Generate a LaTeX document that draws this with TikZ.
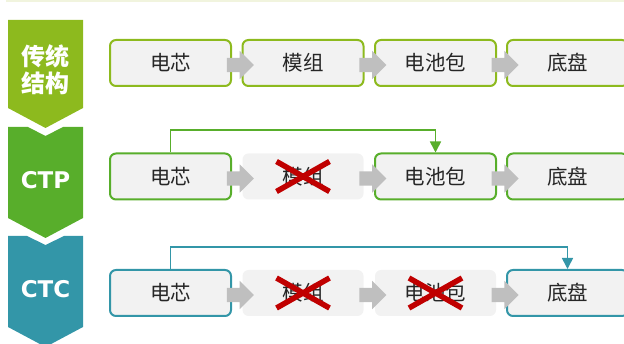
\documentclass[tikz,border=0pt]{standalone}
\usepackage{fontspec}
\setmainfont{Noto Sans CJK SC}
\newfontfamily\cjk{Noto Sans CJK SC}
\newfontfamily\lat{DejaVu Sans}
\usetikzlibrary{shapes.arrows,arrows.meta,calc}
\definecolor{olivec}{HTML}{8DBA1E}
\definecolor{greenc}{HTML}{58AE2B}
\definecolor{tealc}{HTML}{3396A8}
\definecolor{boxfill}{HTML}{F2F2F2}
\definecolor{txt}{HTML}{262626}
\definecolor{redx}{HTML}{C00000}
\definecolor{grayarr}{HTML}{BFBFBF}
\definecolor{topline}{HTML}{F1F4DE}
\tikzset{
  stagebox/.style={rounded corners=6pt, fill=boxfill, line width=2pt,
    minimum width=121pt, minimum height=46pt, inner sep=0pt,
    font=\cjk\fontsize{20.5}{22}\selectfont, text=txt},
  gonebox/.style={stagebox, draw=none},
  flowarrow/.style={single arrow, fill=grayarr, draw=none, inner sep=7pt,
    minimum height=27pt, single arrow head extend=7pt, single arrow tip angle=90},
  xline/.style={draw=redx, line width=5.5pt},
  conn/.style={line width=1.6pt, -{Triangle[length=11pt,width=11pt]}},
  chevtext/.style={text=white, font=\cjk\bfseries\fontsize{24}{27}\selectfont, align=center},
  chevlat/.style={text=white, font=\lat\bfseries\fontsize{23}{26}\selectfont},
}
\begin{document}
\begin{tikzpicture}[x=1pt,y=-1pt]
\useasboundingbox (0,0) rectangle (624,344);
\draw[topline, line width=2pt] (6,1) -- (624,1);
% chevrons
\fill[olivec] (8,20) -- (83,20) -- (83,108) -- (45.5,128) -- (8,108) -- cycle;
\fill[greenc] (8,127) -- (28,127) -- (45.5,136) -- (63,127) -- (83,127) -- (83,218) -- (45.5,238) -- (8,218) -- cycle;
\fill[tealc] (8,236) -- (27,236) -- (45.5,245) -- (64,236) -- (83,236) -- (83,327) -- (45.5,347) -- (8,327) -- cycle;
\node[chevtext] (l1) at (45.5,70) {传统\\结构};
\node[chevlat] (l2) at (45.5,180) {CTP};
\node[chevlat] (l3) at (45.5,289) {CTC};
% row 1
\node[stagebox, draw=olivec] (a1) at (170.5,63) {电芯};
\node[stagebox, draw=olivec] (a2) at (303,63) {模组};
\node[stagebox, draw=olivec] (a3) at (435.5,63) {电池包};
\node[stagebox, draw=olivec] (a4) at (567.5,63) {底盘};
% row 2
\node[stagebox, draw=greenc] (b1) at (170.5,176.5) {电芯};
\node[gonebox] (b2) at (303,176.5) {模组};
\node[stagebox, draw=greenc] (b3) at (435.5,176.5) {电池包};
\node[stagebox, draw=greenc] (b4) at (567.5,176.5) {底盘};
% row 3
\node[stagebox, draw=tealc] (c1) at (170.5,293) {电芯};
\node[gonebox] (c2) at (303,293) {模组};
\node[gonebox] (c3) at (435.5,293) {电池包};
\node[stagebox, draw=tealc] (c4) at (567.5,293) {底盘};
% gray flow arrows
\foreach \p/\q in {a1/a2,a2/a3,a3/a4,b1/b2,b2/b3,b3/b4,c1/c2,c2/c3,c3/c4}{
  \node[flowarrow] (arr-\p) at ($($(\p.east)!0.5!(\q.west)$)+(0,2)$) {};
}
% red crosses
\foreach \n in {b2,c2,c3}{
  \draw[xline] ($(\n.center)+(-26.5,-15)$) -- ($(\n.center)+(26.5,15)$);
  \draw[xline] ($(\n.center)+(-26.5,15)$) -- ($(\n.center)+(26.5,-15)$);
}
% bypass connectors
\coordinate (t2) at (300,130);
\coordinate (t3) at (300,247);
\draw[conn, draw=greenc] (b1.north) |- (t2) -| (b3.north);
\draw[conn, draw=tealc] (c1.north) |- (t3) -| (c4.north);
\end{tikzpicture}
\end{document}
